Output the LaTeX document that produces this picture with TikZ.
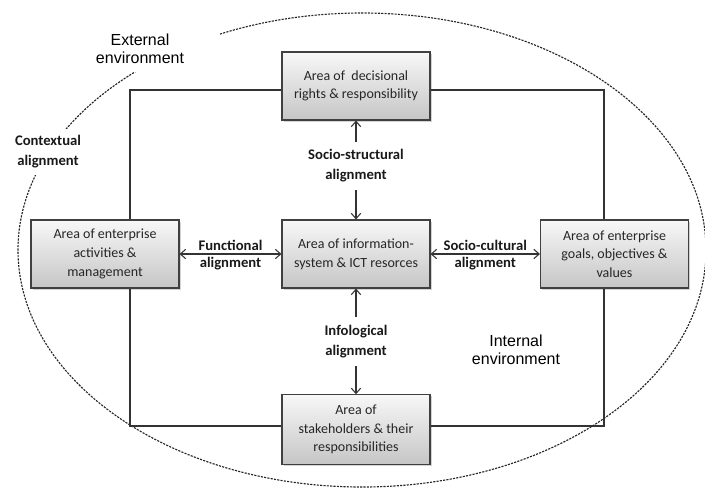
\documentclass[tikz,border=0pt]{standalone}
\usepackage{fontspec}
\setmainfont{Carlito}
\newfontfamily\arialfont{Liberation Sans}
\usetikzlibrary{arrows.meta,shadows,calc}
\begin{document}
\begin{tikzpicture}[x=0.75pt,y=-0.75pt,
 area/.style={draw=black!75, line width=0.8pt, top color=gray!6, bottom color=gray!45,
   minimum width=111pt, minimum height=51pt, align=center, text=black!85,
   font=\fontsize{10.5}{14}\selectfont,
   drop shadow={shadow xshift=1.2pt, shadow yshift=-1.2pt, opacity=0.35}},
 frame/.style={draw=black!80, line width=0.8pt},
 conn/.style={draw=black!80, line width=0.8pt,
   {Straight Barb[length=4pt,width=7pt]}-{Straight Barb[length=4pt,width=7pt]}},
 lab/.style={font=\bfseries\fontsize{11}{15}\selectfont, align=center, text=black!90},
 env/.style={font=\arialfont\fontsize{12}{13.5}\selectfont, align=center, text=black},
 ]
\useasboundingbox (0,0) rectangle (705,490);
\draw[black!85, line width=0.85pt, dash pattern=on 1.6pt off 0.9pt] (362,250) ellipse [x radius=344, y radius=237];
\node[env, fill=white, minimum width=120pt, minimum height=34pt] (ext) at (140,49) {External\\environment};
\node[lab, fill=white, minimum width=67pt, minimum height=35pt] (ctx) at (48,152) {Contextual\\alignment};
\node[env] (int) at (516,350) {Internal\\environment};

\node[area] (top) at (356,86) {Area of\ \ decisional\\rights \& responsibility};
\node[area] (mid) at (356,254) {Area of information-\\system \& ICT resorces};
\node[area] (lft) at (105,254) {Area of enterprise\\activities \&\\management};
\node[area] (rgt) at (614.5,254) {Area of enterprise\\goals, objectives \&\\values};
\node[area, minimum height=52pt] (bot) at (356,429.5) {Area of\\stakeholders \& their\\responsibilities};

\coordinate (ftl) at (130,90);
\coordinate (ftr) at (604,90);
\coordinate (fbl) at (130,426);
\coordinate (fbr) at (604,426);
\draw[frame] (top.west |- ftl) -- (ftl) -- (lft.north -| ftl);
\draw[frame] (lft.south -| fbl) -- (fbl) -- (bot.west |- fbl);
\draw[frame] (top.east |- ftr) -- (ftr) -- (rgt.north -| ftr);
\draw[frame] (rgt.south -| fbr) -- (fbr) -- (bot.east |- fbr);

\draw[conn] (top) -- (mid) node[lab, midway, fill=white, inner ysep=6pt, yshift=3pt] {Socio-structural\\alignment};
\draw[conn] (mid) -- (bot) node[lab, midway, fill=white, inner ysep=6pt] {Infological\\alignment};
\draw[conn] (lft) -- (mid) node[lab, midway, above, inner sep=2pt] {Functional} node[lab, midway, below, inner sep=2pt] {alignment};
\draw[conn] (mid) -- (rgt) node[lab, midway, above, inner sep=2pt] {Socio-cultural} node[lab, midway, below, inner sep=2pt] {alignment};
\end{tikzpicture}
\end{document}
